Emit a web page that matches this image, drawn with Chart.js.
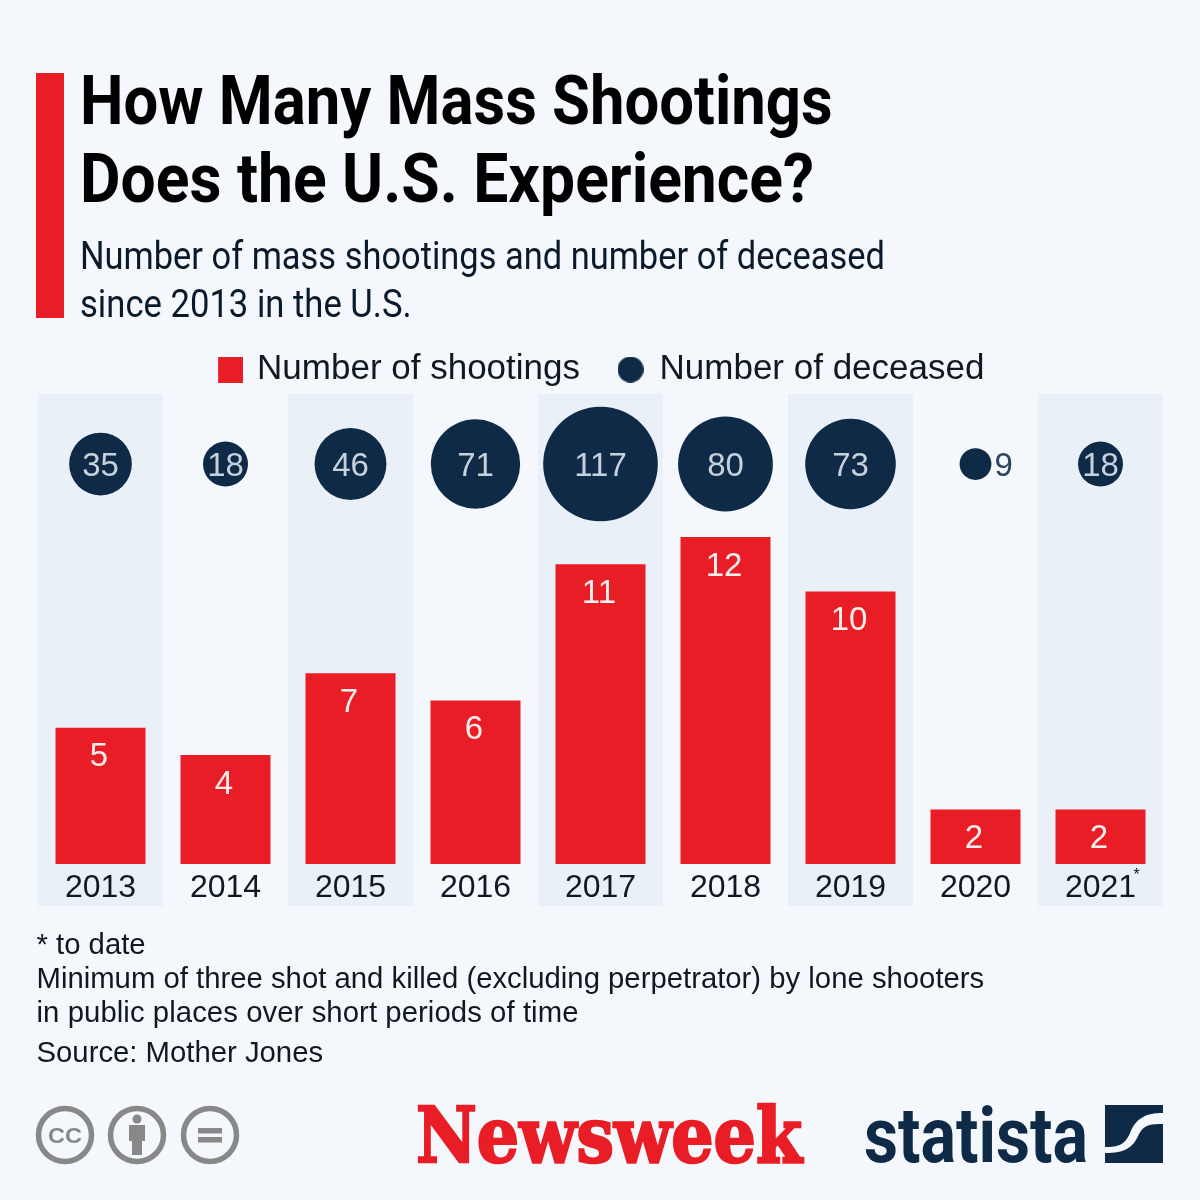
<!DOCTYPE html>
<html><head><meta charset="utf-8">
<script src="https://cdn.jsdelivr.net/npm/chart.js@4"></script>
<style>
html,body{margin:0;padding:0;background:#f4f8fc;}
#wrap{position:relative;width:1200px;height:1200px;overflow:hidden;background:#f4f8fc;}
canvas{position:absolute;left:0;top:0;}
.t{position:absolute;white-space:nowrap;transform-origin:0 0;line-height:1;}
.title{font:700 68px Roboto,sans-serif;color:#000;transform:scaleX(.906);left:80px;}
.sub{font:400 38px Roboto,sans-serif;color:#0b1a2b;transform:scaleX(.906);left:80px;}
.foot{font:400 29.3px "Liberation Sans",Arial,sans-serif;color:#101820;left:36.5px;}
#bar{position:absolute;left:36px;top:73px;width:28px;height:245px;background:#e91d25;}
</style></head><body>
<div id="wrap">
<canvas id="c" width="1200" height="1200"></canvas>
<div id="bar"></div>
<div class="t title" style="top:61px">How Many Mass Shootings</div>
<div class="t title" style="top:139px;transform:scaleX(.917)">Does the U.S. Experience?</div>
<div class="t sub" style="top:234px">Number of mass shootings and number of deceased</div>
<div class="t sub" style="top:282px;transform:scaleX(.911)">since 2013 in the U.S.</div>
<div class="t foot" style="top:927px">* to date</div>
<div class="t foot" style="top:961px">Minimum of three shot and killed (excluding perpetrator) by lone shooters</div>
<div class="t foot" style="top:995px;letter-spacing:.07px">in public places over short periods of time</div>
<div class="t foot" style="top:1035px">Source: Mother Jones</div>
<svg style="position:absolute;left:0;top:0" width="1200" height="1200">
 <g fill="none" stroke="#888" stroke-width="5.5">
  <circle cx="65" cy="1135" r="26.5"/><circle cx="137" cy="1135" r="26.5"/><circle cx="210" cy="1135" r="26.5"/>
 </g>
 <text x="48" y="1143" font-family="Liberation Sans" font-weight="700" font-size="22" fill="#888" textLength="34" lengthAdjust="spacingAndGlyphs">CC</text>
 <g fill="#888"><circle cx="137" cy="1119" r="4.5"/><rect x="129" y="1125" width="16" height="16"/><rect x="132" y="1138" width="10" height="17"/>
 <rect x="198" y="1128" width="24" height="5.5"/><rect x="198" y="1137" width="24" height="5.5"/></g>
 <text x="416" y="1162" font-family="DejaVu Serif" font-weight="700" font-size="76" fill="#e91d25" stroke="#e91d25" stroke-width="2.5" textLength="386" lengthAdjust="spacingAndGlyphs">Newsweek</text>
 <text x="864" y="1162" font-family="Roboto" font-weight="700" font-size="78" fill="#0f2a47" textLength="224" lengthAdjust="spacingAndGlyphs">statista</text>
 <path fill="#0f2a47" d="M1105 1105H1163V1113C1146 1113 1136 1118 1130 1133C1125 1145 1118 1147 1105 1147Z"/>
 <path fill="#0f2a47" d="M1163 1124V1163H1105V1153C1125 1153 1133 1148 1139 1134C1144 1124 1152 1124 1163 1124Z"/>
</svg>
</div>
<script>
const years = ['2013','2014','2015','2016','2017','2018','2019','2020','2021'];
const shootings = [5,4,7,6,11,12,10,2,2];
const deceased = [35,18,46,71,117,80,73,9,18];
const seriesNames = ['Number of shootings','Number of deceased'];
const RED='#e91d25', NAVY='#0f2a47', BAND='#eaf0f7';
const bubbleRow = 14.68;
const bubbleK = 5.3;
const sans='"Liberation Sans",Arial,sans-serif';

function legendMark(kind,color){
  const c=document.createElement('canvas');c.width=kind==='rect'?30:26;c.height=26;
  const g=c.getContext('2d');g.fillStyle=color;
  if(kind==='rect'){g.fillRect(5,0,25,26);}else{g.beginPath();g.arc(13,13,13,0,Math.PI*2);g.fill();}
  return c;
}

const overlay = {
  id:'overlay',
  beforeDraw(ch){
    const {ctx,chartArea:a,scales:{x}}=ch;
    const step=x.getPixelForValue(1)-x.getPixelForValue(0);
    ctx.save();ctx.fillStyle=BAND;
    years.forEach((y,i)=>{ if(i%2===0){ctx.fillRect(x.getPixelForValue(i)-step/2,a.top,step,a.bottom-a.top);} });
    ctx.restore();
  },
  afterDatasetsDraw(ch){
    const {ctx,scales:{x,y}}=ch;
    ctx.save();ctx.textAlign='center';ctx.textBaseline='middle';
    ctx.font='33px '+sans;
    ctx.fillStyle='#fdeeee';
    shootings.forEach((v,i)=>ctx.fillText(String(v),x.getPixelForValue(i)-1.5,y.getPixelForValue(v)+29.5));
    const bub=ch.getDatasetMeta(1).data;
    deceased.forEach((v,i)=>{
      const p=bub[i], r=bubbleK*Math.sqrt(v);
      if(r<20){ctx.fillStyle='#2c4560';ctx.textAlign='left';ctx.fillText(String(v),p.x+r+3,p.y+2.5);ctx.textAlign='center';}
      else{ctx.fillStyle='#c6d1dc';ctx.fillText(String(v),p.x,p.y+2.5);}
    });
    ctx.font='16px '+sans;ctx.fillStyle='#101820';
    ctx.fillText('*',x.getPixelForValue(8)+36,y.getPixelForValue(0)+12);
    ctx.restore();
  }
};

new Chart(document.getElementById('c'),{
  data:{labels:years,datasets:[
    {type:'bar',label:seriesNames[0],data:shootings,backgroundColor:RED,barPercentage:.72,categoryPercentage:1},
    {type:'bubble',label:seriesNames[1],data:deceased.map((v,i)=>({x:years[i],y:bubbleRow,r:bubbleK*Math.sqrt(v)})),backgroundColor:NAVY,borderWidth:0}
  ]},
  options:{
    responsive:false,animation:false,devicePixelRatio:1,
    layout:{autoPadding:false,padding:{left:38,right:37,top:313,bottom:294}},
    events:[],
    plugins:{
      tooltip:{enabled:false},
      legend:{position:'top',align:'center',maxHeight:81,
        labels:{usePointStyle:true,boxWidth:23,boxHeight:23,padding:39,color:'#101820',font:{family:sans,size:35},
          generateLabels(ch){
            return seriesNames.map((n,i)=>({text:n,datasetIndex:i,hidden:false,fontColor:'#101820',lineWidth:0,strokeStyle:'transparent',
              fillStyle:i?NAVY:RED,pointStyle:legendMark(i?'circle':'rect',i?NAVY:RED)}));
          }},
        onClick:null},
    },
    scales:{
      x:{type:'category',position:{y:0},offset:true,grid:{display:false,drawTicks:false},border:{display:false},
         ticks:{color:'#101820',font:{family:sans,size:32},padding:5,maxRotation:0,autoSkip:false}},
      y:{display:false,min:-1.54,max:17.25}
    }
  },
  plugins:[overlay]
});
</script>
</body></html>
